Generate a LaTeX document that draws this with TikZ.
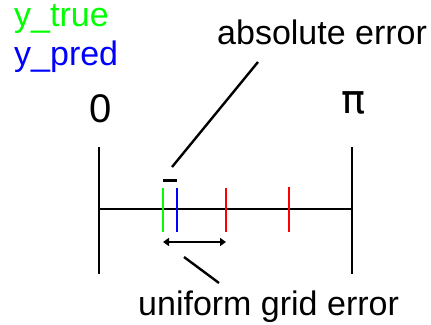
\documentclass[tikz,border=0pt]{standalone}
\usepackage{fontspec}
\setmainfont{Liberation Sans}
\newfontfamily\pifont{DejaVu Sans}
\usetikzlibrary{arrows.meta}
\begin{document}
\begin{tikzpicture}[x=1pt,y=-1pt,
  lbl/.style={inner sep=0pt,anchor=base west,font=\fontsize{34}{40}\selectfont},
  endlbl/.style={inner sep=0pt,font=\fontsize{40}{46}\selectfont},
  axis/.style={line width=2.6pt},
  tick/.style={line width=2pt},
  lead/.style={line width=2.4pt}]
\useasboundingbox (0,0) rectangle (431,324);
\definecolor{tgreen}{RGB}{0,255,0}
\definecolor{tblue}{RGB}{0,0,255}
\definecolor{tred}{RGB}{255,0,0}
% legend
\node[lbl,text=tgreen] (ytrue) at (14,26) {y\_true};
\node[lbl,text=tblue] (ypred) at (14,65) {y\_pred};
% end labels
\node[endlbl,anchor=base] (zero) at (101,122) {0};
\node[endlbl,font=\pifont\fontsize{40}{46}\selectfont] (pi) at (354,103) {π};
% axis
\coordinate (L) at (99,209);
\coordinate (R) at (352,209);
\coordinate (Lt) at (99,147);
\coordinate (Lb) at (99,274);
\coordinate (Rt) at (352,147);
\coordinate (Rb) at (352,274);
\draw[axis] (Lt) -- (Lb);
\draw[axis] (Rt) -- (Rb);
\draw[axis] (L) -- (R);
% ticks
\coordinate (gt) at (162.5,188); \coordinate (gb) at (162.5,232);
\coordinate (bt) at (177,188); \coordinate (bb) at (177,232);
\coordinate (r1t) at (226,188); \coordinate (r1b) at (226,232);
\coordinate (r2t) at (289,187); \coordinate (r2b) at (289,232);
\draw[tick,tgreen] (gt) -- (gb);
\draw[tick,tblue] (bt) -- (bb);
\draw[tick,tred] (r1t) -- (r1b);
\draw[tick,tred] (r2t) -- (r2b);
% absolute error
\coordinate (d1) at (163,180); \coordinate (d2) at (177,180);
\draw[line width=3pt] (d1) -- (d2);
\node[lbl] (abs) at (217,44) {absolute error};
\coordinate (a1) at (172,167); \coordinate (a2) at (258,62);
\draw[lead] (a1) -- (a2);
% uniform grid error
\coordinate (e1) at (163,242); \coordinate (e2) at (226,242);
\draw[line width=2.6pt,{Triangle[length=6pt,width=8pt]}-{Triangle[length=6pt,width=8pt]}] (e1) -- (e2);
\node[lbl] (uni) at (138,315) {uniform grid error};
\coordinate (u1) at (184,257); \coordinate (u2) at (219,283);
\draw[lead] (u1) -- (u2);
\end{tikzpicture}
\end{document}
